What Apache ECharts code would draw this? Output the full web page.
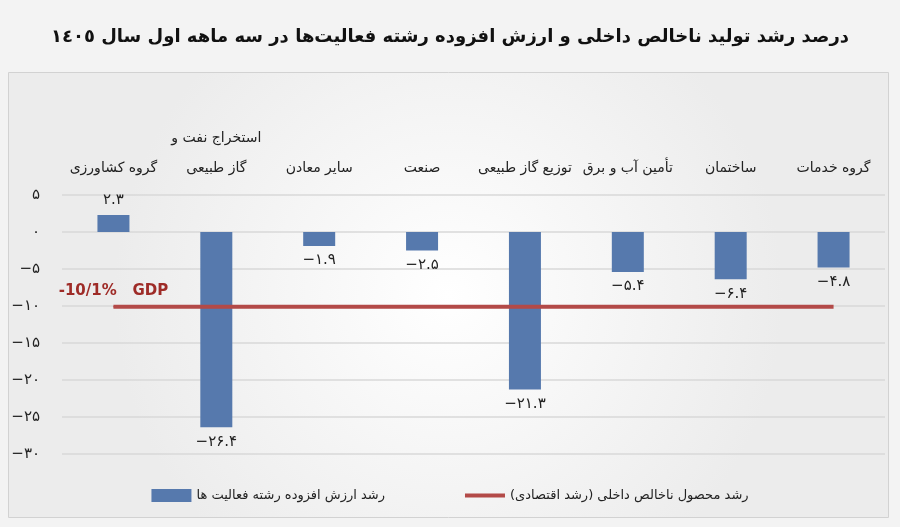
<!DOCTYPE html>
<html>
<head>
<meta charset="utf-8">
<script src="https://cdn.jsdelivr.net/npm/echarts@6/dist/echarts.min.js"></script>
<style>
  html, body { margin: 0; padding: 0; background: #f3f3f3; }
  #main { width: 900px; height: 527px; }
</style>
</head>
<body>
<div id="main"></div>
<script>
var chartDom = document.getElementById('main');

var categories = ['گروه کشاورزی', 'استخراج نفت و\nگاز طبیعی', 'سایر معادن', 'صنعت',
    'توزیع گاز طبیعی', 'تأمین آب و برق', 'ساختمان', 'گروه خدمات'];
var sectorGrowth = [2.3, -26.4, -1.9, -2.5, -21.3, -5.4, -6.4, -4.8];
var gdpGrowth = [-10.1, -10.1, -10.1, -10.1, -10.1, -10.1, -10.1, -10.1];
var yTicks = { min: -30, max: 5, interval: 5 };

var barName = 'رشد ارزش افزوده رشته فعالیت ها';
var lineName = 'رشد محصول ناخالص داخلی (رشد اقتصادی)';
var titleText = 'درصد رشد تولید ناخالص داخلی و ارزش افزوده رشته فعالیت‌ها در سه ماهه اول سال ١٤٠٥';
var gdpLabel = '-10/1%   GDP';

var faDigits = '۰۱۲۳۴۵۶۷۸۹';
var toFa = v => {
    let s = String(Math.abs(v)).replace(/[0-9]/g, d => faDigits[+d]);
    return v < 0 ? '−' + s : s;
};

var font = 'DejaVu Sans';
var chart = echarts.init(chartDom);

var option = {
    backgroundColor: '#f3f3f3',
    textStyle: { fontFamily: font },
    graphic: [{
        type: 'rect',
        left: 8, top: 72,
        shape: { width: 880, height: 445 },
        style: {
            fill: new echarts.graphic.RadialGradient(0.5, 0.5, 0.75, [
                { offset: 0, color: '#ffffff' },
                { offset: 1, color: '#ececec' }
            ]),
            stroke: '#d2d2d2', lineWidth: 1
        },
        z: -10
    }],
    title: {
        text: titleText,
        left: 'center',
        top: 23,
        textStyle: { fontFamily: font, fontSize: 18, fontWeight: 'bold', color: '#111' }
    },
    legend: {
        top: 484,
        left: 'center',
        itemGap: 80,
        itemWidth: 40,
        itemHeight: 13,
        textStyle: { fontFamily: font, fontSize: 13, color: '#222' },
        data: [
            { name: barName, icon: 'rect' },
            { name: lineName, icon: 'path://M0,0 H40 V4 H0 Z' }
        ]
    },
    grid: { left: 62, right: 15, top: 195, bottom: 73 },
    xAxis: {
        type: 'category',
        position: 'top',
        data: categories,
        axisLine: { show: false },
        axisTick: { show: false },
        axisLabel: {
            margin: 12,
            interval: 0,
            fontSize: 14,
            lineHeight: 30,
            color: '#222',
            fontFamily: font
        }
    },
    yAxis: {
        type: 'value',
        min: yTicks.min,
        max: yTicks.max,
        interval: yTicks.interval,
        axisLine: { show: false },
        axisTick: { show: false },
        splitLine: { lineStyle: { color: '#d9d9d9', width: 1.5 } },
        axisLabel: {
            margin: 22,
            fontSize: 15,
            color: '#222',
            formatter: v => toFa(v)
        }
    },
    series: [
        {
            name: barName,
            type: 'bar',
            barWidth: 32,
            itemStyle: { color: '#5679ad' },
            label: {
                show: true,
                fontSize: 15,
                color: '#222',
                distance: 7,
                formatter: p => toFa(p.value)
            },
            data: sectorGrowth.map(v => ({
                value: v,
                label: { position: v < 0 ? 'bottom' : 'top' }
            }))
        },
        {
            name: lineName,
            type: 'line',
            symbol: 'none',
            showSymbol: true,
            lineStyle: { color: '#b34a48', width: 4 },
            itemStyle: { color: '#b34a48' },
            z: 5,
            data: gdpGrowth.map((v, i) => i === 0 ? {
                value: v,
                symbol: 'circle',
                symbolSize: 1,
                label: {
                    show: true,
                    position: 'top',
                    distance: 8,
                    formatter: gdpLabel,
                    fontSize: 15,
                    fontWeight: 'bold',
                    color: '#9e2b27',
                    fontFamily: font
                }
            } : v)
        }
    ]
};
chart.setOption(option);
</script>
</body>
</html>
